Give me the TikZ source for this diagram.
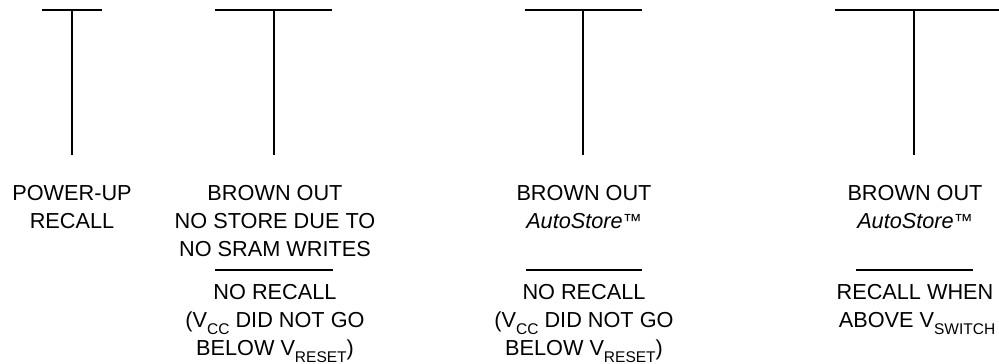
\documentclass[tikz,border=0pt]{standalone}
\usepackage{fontspec}
\setmainfont{Liberation Sans}
\newcommand{\subs}[1]{\raisebox{-7pt}{\fontsize{15.5}{15.5}\selectfont #1}}
\newcommand{\tmark}{\raisebox{1pt}{\fontsize{19}{19}\selectfont ™}}
\tikzset{
  lbl/.style={anchor=base, inner sep=0pt, font=\fontsize{21.7}{28}\selectfont},
  bar/.style={line width=1.9pt, black},
}
\begin{document}
\begin{tikzpicture}[x=1pt,y=-1pt]
\useasboundingbox (0,0) rectangle (999,364);
% T markers
\coordinate (a1l) at (42,10);  \coordinate (a1r) at (102,10);
\coordinate (a1t) at (72,10);  \coordinate (a1b) at (72,155);
\coordinate (a2l) at (215,10); \coordinate (a2r) at (332,10);
\coordinate (a2t) at (274,10); \coordinate (a2b) at (274,155);
\coordinate (a3l) at (525,10); \coordinate (a3r) at (642,10);
\coordinate (a3t) at (583,10); \coordinate (a3b) at (583,155);
\coordinate (a4l) at (835,10); \coordinate (a4r) at (999,10);
\coordinate (a4t) at (914,10); \coordinate (a4b) at (914,155);
\draw[bar] (a1l) -- (a1r); \draw[bar] (a1t) -- (a1b);
\draw[bar] (a2l) -- (a2r); \draw[bar] (a2t) -- (a2b);
\draw[bar] (a3l) -- (a3r); \draw[bar] (a3t) -- (a3b);
\draw[bar] (a4l) -- (a4r); \draw[bar] (a4t) -- (a4b);
% separators
\coordinate (s2l) at (215,270); \coordinate (s2r) at (333,270);
\coordinate (s3l) at (526,270); \coordinate (s3r) at (642,270);
\coordinate (s4l) at (856,270); \coordinate (s4r) at (973,270);
\draw[bar] (s2l) -- (s2r);
\draw[bar] (s3l) -- (s3r);
\draw[bar] (s4l) -- (s4r);
% column 1
\node[lbl] (c1a) at (72,200) {POWER-UP};
\node[lbl] (c1b) at (72,228) {RECALL};
% column 2
\node[lbl] (c2a) at (275,200) {BROWN OUT};
\node[lbl] (c2b) at (275,228) {NO STORE DUE TO};
\node[lbl] (c2c) at (275,256) {NO SRAM WRITES};
\node[lbl] (c2d) at (275,299) {NO RECALL};
\node[lbl] (c2e) at (275,327) {(V\subs{CC} DID NOT GO};
\node[lbl] (c2f) at (275,355) {BELOW V\subs{RESET})};
% column 3
\node[lbl] (c3a) at (584,200) {BROWN OUT};
\node[lbl] (c3b) at (584,228) {\textit{AutoStore}\tmark};
\node[lbl] (c3d) at (584,299) {NO RECALL};
\node[lbl] (c3e) at (584,327) {(V\subs{CC} DID NOT GO};
\node[lbl] (c3f) at (584,355) {BELOW V\subs{RESET})};
% column 4
\node[lbl] (c4a) at (915,200) {BROWN OUT};
\node[lbl] (c4b) at (915,228) {\textit{AutoStore}\tmark};
\node[lbl] (c4d) at (915,299) {RECALL WHEN};
\node[lbl] (c4e) at (917,327) {ABOVE V\subs{SWITCH}};
\end{tikzpicture}
\end{document}
